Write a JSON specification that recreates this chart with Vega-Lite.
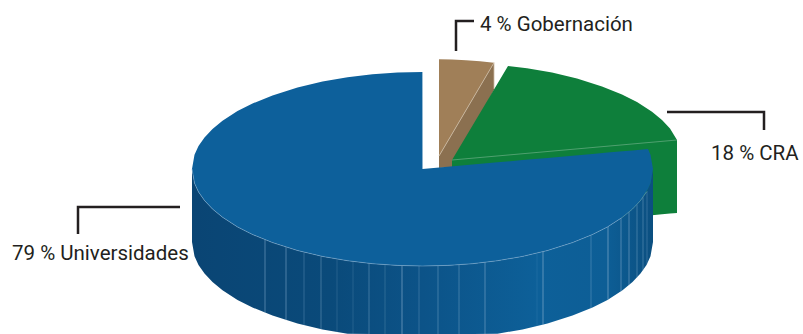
{
  "$schema": "https://vega.github.io/schema/vega-lite/v6.json",
  "width": 803,
  "height": 334,
  "autosize": "none",
  "padding": 0,
  "background": "white",
  "config": {"view": {"stroke": null}},
  "datasets": {
    "brownFace": [
      {"x": 439, "y": 59.3, "y2": 156},
      {"x": 452, "y": 59.6, "y2": 134},
      {"x": 466, "y": 60.3, "y2": 110.2},
      {"x": 480, "y": 61.3, "y2": 86.5},
      {"x": 494, "y": 62.7, "y2": 62.7}
    ],
    "brownCut": [
      {"x": 439, "y": 156, "y2": 168},
      {"x": 452, "y": 134, "y2": 167},
      {"x": 494, "y": 62.7, "y2": 90}
    ],
    "green": [
      {"x": 452, "y": 160, "y2": 233},
      {"x": 508, "y": 66, "y2": 228},
      {"x": 527, "y": 68.3, "y2": 226.3},
      {"x": 552, "y": 72.6, "y2": 224.1},
      {"x": 577, "y": 78.5, "y2": 221.9},
      {"x": 602, "y": 86.4, "y2": 219.7},
      {"x": 622, "y": 94.5, "y2": 217.9},
      {"x": 637, "y": 102.1, "y2": 216.6},
      {"x": 652, "y": 111.8, "y2": 215.2},
      {"x": 662, "y": 120, "y2": 214.3},
      {"x": 670, "y": 128.5, "y2": 213.6},
      {"x": 677, "y": 140, "y2": 213}
    ],
    "blueWall": [
      {"x": 192, "y": 169, "y2": 242},
      {"x": 194.5, "y": 183.2, "y2": 256.2},
      {"x": 198.5, "y": 191.9, "y2": 264.9},
      {"x": 204.5, "y": 200.5, "y2": 273.5},
      {"x": 212.5, "y": 209, "y2": 282},
      {"x": 222.5, "y": 217.2, "y2": 290.2},
      {"x": 237.5, "y": 226.9, "y2": 299.9},
      {"x": 252.5, "y": 234.5, "y2": 307.5},
      {"x": 272.5, "y": 242.6, "y2": 315.6},
      {"x": 297.5, "y": 250.5, "y2": 323.5},
      {"x": 322.5, "y": 256.4, "y2": 329.4},
      {"x": 347.5, "y": 260.7, "y2": 333.7},
      {"x": 372.5, "y": 263.7, "y2": 334},
      {"x": 397.5, "y": 265.4, "y2": 334},
      {"x": 422.5, "y": 266, "y2": 334},
      {"x": 447.5, "y": 265.4, "y2": 334},
      {"x": 472.5, "y": 263.7, "y2": 334},
      {"x": 497.5, "y": 260.7, "y2": 333.7},
      {"x": 522.5, "y": 256.4, "y2": 329.4},
      {"x": 547.5, "y": 250.5, "y2": 323.5},
      {"x": 572.5, "y": 242.6, "y2": 315.6},
      {"x": 592.5, "y": 234.5, "y2": 307.5},
      {"x": 607.5, "y": 226.9, "y2": 299.9},
      {"x": 622.5, "y": 217.2, "y2": 290.2},
      {"x": 632.5, "y": 209, "y2": 282},
      {"x": 640.5, "y": 200.5, "y2": 273.5},
      {"x": 646.5, "y": 191.9, "y2": 264.9},
      {"x": 650.5, "y": 183.2, "y2": 256.2},
      {"x": 653, "y": 169, "y2": 242}
    ],
    "blueTop": [
      {"x": 192, "y": 169, "y2": 169},
      {"x": 194.5, "y": 154.8, "y2": 183.2},
      {"x": 198.5, "y": 146.1, "y2": 191.9},
      {"x": 204.5, "y": 137.5, "y2": 200.5},
      {"x": 212.5, "y": 129, "y2": 209},
      {"x": 222.5, "y": 120.8, "y2": 217.2},
      {"x": 237.5, "y": 111.1, "y2": 226.9},
      {"x": 252.5, "y": 103.5, "y2": 234.5},
      {"x": 272.5, "y": 95.4, "y2": 242.6},
      {"x": 297.5, "y": 87.5, "y2": 250.5},
      {"x": 322.5, "y": 81.6, "y2": 256.4},
      {"x": 347.5, "y": 77.3, "y2": 260.7},
      {"x": 372.5, "y": 74.3, "y2": 263.7},
      {"x": 397.5, "y": 72.6, "y2": 265.4},
      {"x": 422.4, "y": 72, "y2": 266},
      {"x": 422.5, "y": 169, "y2": 266},
      {"x": 447.5, "y": 166.8, "y2": 265.4},
      {"x": 472.5, "y": 164.6, "y2": 263.7},
      {"x": 497.5, "y": 162.3, "y2": 260.7},
      {"x": 522.5, "y": 160.1, "y2": 256.4},
      {"x": 547.5, "y": 157.9, "y2": 250.5},
      {"x": 572.5, "y": 155.7, "y2": 242.6},
      {"x": 592.5, "y": 153.9, "y2": 234.5},
      {"x": 607.5, "y": 152.6, "y2": 226.9},
      {"x": 622.5, "y": 151.3, "y2": 217.2},
      {"x": 632.5, "y": 150.4, "y2": 209},
      {"x": 640.5, "y": 149.7, "y2": 200.5},
      {"x": 648, "y": 149, "y2": 189.1},
      {"x": 650.5, "y": 154.8, "y2": 183.2},
      {"x": 653, "y": 169, "y2": 169}
    ],
    "seams": [
      {"x": 265, "y": 239.8, "y2": 312.8, "o": 0.5},
      {"x": 286, "y": 247.2, "y2": 320.2, "o": 0.5},
      {"x": 304, "y": 252.2, "y2": 325.2, "o": 0.3},
      {"x": 321, "y": 256.1, "y2": 329.1, "o": 0.4},
      {"x": 337, "y": 259.1, "y2": 332.1, "o": 0.2},
      {"x": 353, "y": 261.5, "y2": 334, "o": 0.2},
      {"x": 369, "y": 263.4, "y2": 334, "o": 0.4},
      {"x": 385, "y": 264.7, "y2": 334, "o": 0.25},
      {"x": 402, "y": 265.6, "y2": 334, "o": 0.6},
      {"x": 419, "y": 266, "y2": 334, "o": 0.3},
      {"x": 438, "y": 265.8, "y2": 334, "o": 0.4},
      {"x": 459, "y": 264.8, "y2": 334, "o": 0.4},
      {"x": 485, "y": 262.4, "y2": 334, "o": 0.5},
      {"x": 537, "y": 253.2, "y2": 326.2, "o": 0.12},
      {"x": 543, "y": 251.7, "y2": 324.7, "o": 0.6},
      {"x": 591, "y": 235.2, "y2": 308.2, "o": 0.35},
      {"x": 608, "y": 226.6, "y2": 299.6, "o": 0.6},
      {"x": 621, "y": 218.3, "y2": 291.3, "o": 0.5},
      {"x": 629, "y": 212.1, "y2": 285.1, "o": 0.5},
      {"x": 637, "y": 204.5, "y2": 277.5, "o": 0.4},
      {"x": 643, "y": 197.3, "y2": 270.3, "o": 0.4},
      {"x": 647, "y": 191, "y2": 264, "o": 0.3}
    ],
    "edges": [
      {"edge": "green", "i": 1, "x": 452, "y": 160},
      {"edge": "green", "i": 2, "x": 677, "y": 140},
      {"edge": "brown", "i": 1, "x": 439, "y": 156},
      {"edge": "brown", "i": 2, "x": 494, "y": 62.7},
      {"edge": "brown", "i": 3, "x": 494, "y": 89}
    ],
    "leaders": [
      {"label": "gob", "i": 1, "x": 456, "y": 51},
      {"label": "gob", "i": 2, "x": 456, "y": 21},
      {"label": "gob", "i": 3, "x": 474, "y": 21},
      {"label": "cra", "i": 1, "x": 667, "y": 112},
      {"label": "cra", "i": 2, "x": 764, "y": 112},
      {"label": "cra", "i": 3, "x": 764, "y": 130},
      {"label": "uni", "i": 1, "x": 78, "y": 234},
      {"label": "uni", "i": 2, "x": 78, "y": 207},
      {"label": "uni", "i": 3, "x": 180, "y": 207}
    ],
    "labels": [
      {"share": 4, "text": "4 % Gobernación", "x": 480, "y": 31},
      {"share": 18, "text": "18 % CRA", "x": 711, "y": 160},
      {"share": 79, "text": "79 % Universidades", "x": 12, "y": 260}
    ]
  },
  "encoding": {
    "x": {"field": "x", "type": "quantitative", "axis": null, "scale": {"domain": [0, 803], "nice": false, "zero": false}},
    "y": {"field": "y", "type": "quantitative", "axis": null, "scale": {"domain": [334, 0], "nice": false, "zero": false}}
  },
  "layer": [
    {
      "data": {"name": "brownFace"},
      "mark": {"type": "area", "fill": "#A07F58"},
      "encoding": {"y2": {"field": "y2"}}
    },
    {
      "data": {"name": "brownCut"},
      "mark": {"type": "area", "fill": "#8B7050"},
      "encoding": {"y2": {"field": "y2"}}
    },
    {
      "data": {"name": "edges"},
      "transform": [{"filter": "datum.edge === 'brown'"}],
      "mark": {"type": "line", "stroke": "#CDBBA3", "strokeWidth": 0.8},
      "encoding": {"order": {"field": "i"}}
    },
    {
      "data": {"name": "green"},
      "mark": {"type": "area", "fill": "#0E7F3B"},
      "encoding": {"y2": {"field": "y2"}}
    },
    {
      "data": {"name": "edges"},
      "transform": [{"filter": "datum.edge === 'green'"}],
      "mark": {"type": "line", "stroke": "#5FA87C", "strokeWidth": 0.8},
      "encoding": {"order": {"field": "i"}}
    },
    {
      "data": {"name": "blueWall"},
      "mark": {
        "type": "area",
        "fill": {
          "gradient": "linear",
          "x1": 0, "y1": 0, "x2": 1, "y2": 0,
          "stops": [
            {"offset": 0, "color": "#0A4574"},
            {"offset": 0.3, "color": "#0A4A7A"},
            {"offset": 0.5, "color": "#0C5388"},
            {"offset": 0.75, "color": "#0D6099"},
            {"offset": 0.9, "color": "#0D5E96"},
            {"offset": 1, "color": "#0B4F80"}
          ]
        }
      },
      "encoding": {"y2": {"field": "y2"}}
    },
    {
      "data": {"name": "seams"},
      "mark": {"type": "rule", "stroke": "#8FB6D4", "strokeWidth": 1},
      "encoding": {
        "y2": {"field": "y2"},
        "opacity": {"field": "o", "type": "quantitative", "scale": null}
      }
    },
    {
      "data": {"name": "blueTop"},
      "mark": {"type": "area", "fill": "#0D609B"},
      "encoding": {"y2": {"field": "y2"}}
    },
    {
      "data": {"name": "blueWall"},
      "transform": [{"filter": "datum.x < 648"}],
      "mark": {"type": "line", "stroke": "#8FB6D4", "strokeWidth": 0.8, "opacity": 0.6}
    },
    {
      "data": {"name": "leaders"},
      "mark": {"type": "line", "stroke": "#231F20", "strokeWidth": 2.5, "strokeCap": "butt", "strokeJoin": "miter"},
      "encoding": {
        "detail": {"field": "label"},
        "order": {"field": "i"}
      }
    },
    {
      "data": {"name": "labels"},
      "mark": {"type": "text", "align": "left", "baseline": "alphabetic", "font": "Roboto", "fontSize": 20.5, "fill": "#231F20"},
      "encoding": {"text": {"field": "text"}}
    }
  ]
}
